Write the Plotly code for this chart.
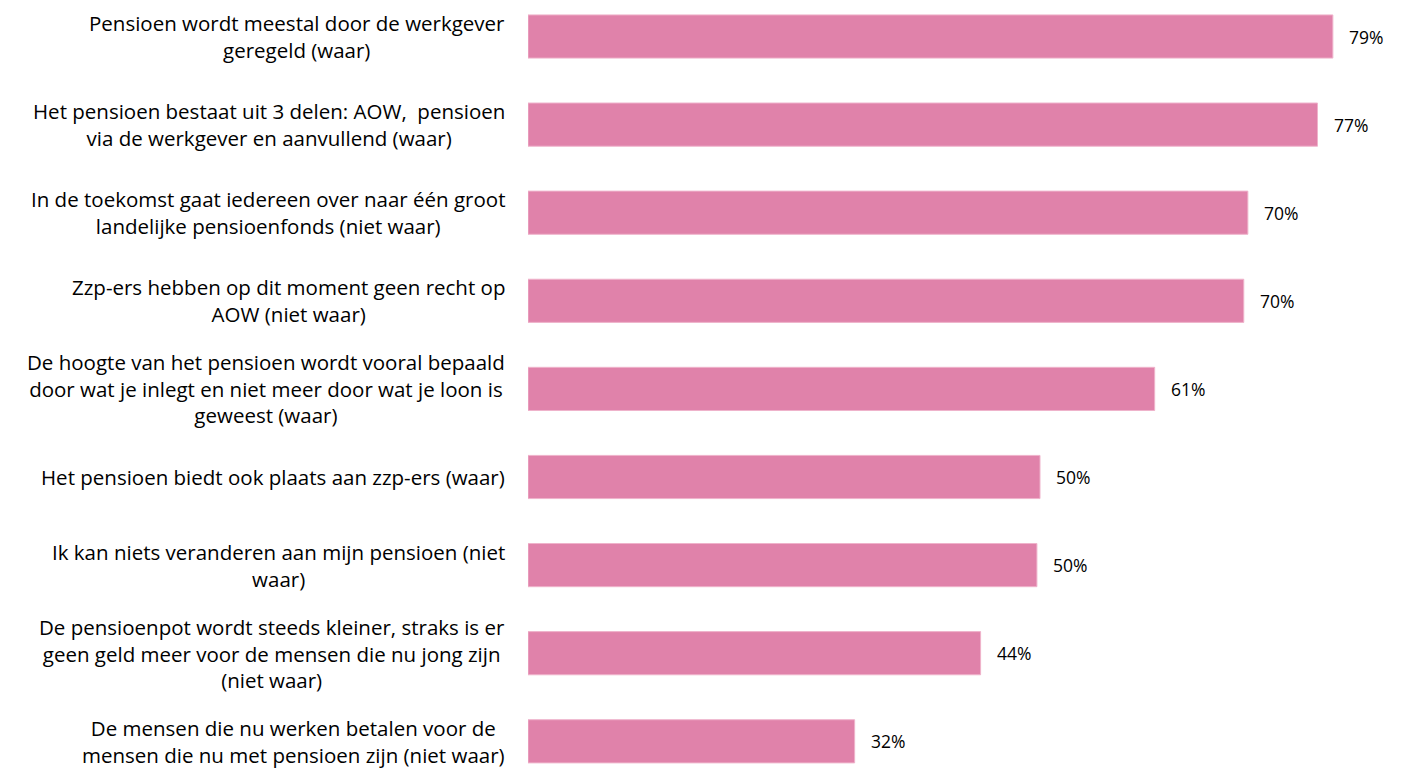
import plotly.graph_objects as go

categories = [
    "Pensioen wordt meestal door de werkgever<br>geregeld (waar)",
    "Het pensioen bestaat uit 3 delen: AOW,  pensioen<br>via de werkgever en aanvullend (waar)",
    "In de toekomst gaat iedereen over naar één groot<br>landelijke pensioenfonds (niet waar)",
    "Zzp-ers hebben op dit moment geen recht op<br>AOW (niet waar)",
    "De hoogte van het pensioen wordt vooral bepaald<br>door wat je inlegt en niet meer door wat je loon is<br>geweest (waar)",
    "Het pensioen biedt ook plaats aan zzp-ers (waar)",
    "Ik kan niets veranderen aan mijn pensioen (niet<br>waar)",
    "De pensioenpot wordt steeds kleiner, straks is er<br>geen geld meer voor de mensen die nu jong zijn<br>(niet waar)",
    "De mensen die nu werken betalen voor de<br>mensen die nu met pensioen zijn (niet waar)",
]
values = [78.6, 77.1, 70.3, 69.9, 61.2, 50.0, 49.7, 44.2, 31.9]
value_labels = ["79%", "77%", "70%", "70%", "61%", "50%", "50%", "44%", "32%"]

font_family = "'Open Sans', Lato, sans-serif"
bar_color = "#E082AA"

fig = go.Figure()
fig.add_trace(go.Bar(
    x=values,
    y=list(range(len(categories))),
    orientation="h",
    width=0.49,
    marker=dict(color=bar_color, line=dict(color="#EFB3CB", width=1)),
    hoverinfo="skip",
))

annotations = []
for i, (cat, v, lab) in enumerate(zip(categories, values, value_labels)):
    annotations.append(dict(
        x=0, y=i, xref="x", yref="y", text=cat, showarrow=False,
        xanchor="right", yanchor="middle", align="center", xshift=-21,
        font=dict(family=font_family, size=20.5, color="#000000"),
    ))
    annotations.append(dict(
        x=v, y=i, xref="x", yref="y", text=lab, showarrow=False,
        xanchor="left", yanchor="middle", align="left", xshift=14,
        font=dict(family=font_family, size=17.5, color="#000000"),
    ))

fig.update_layout(
    width=1395, height=760,
    margin=dict(l=520, r=0, t=0, b=0),
    plot_bgcolor="white", paper_bgcolor="white",
    showlegend=False,
    annotations=annotations,
    xaxis=dict(range=[0, 85.45], visible=False, showgrid=False, zeroline=False),
    yaxis=dict(range=[8.303, -0.3235], visible=False, showgrid=False, zeroline=False),
)

fig.write_html("out.html")
